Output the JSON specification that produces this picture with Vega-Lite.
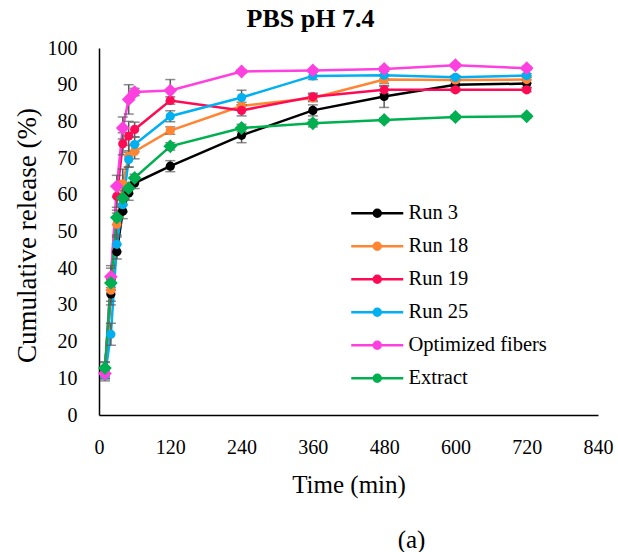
{
  "$schema": "https://vega.github.io/schema/vega-lite/v6.json",
  "autosize": "none",
  "width": 499,
  "height": 367,
  "padding": {"left": 99, "top": 48, "right": 20, "bottom": 137},
  "background": "white",
  "title": {"text": "PBS pH 7.4", "font": "Liberation Serif", "fontSize": 26, "fontWeight": "bold", "color": "black", "dx": -38, "dy": 30, "baseline": "alphabetic", "offset": 15, "anchor": "middle"},
  "config": {
    "view": {"stroke": null},
    "font": "Liberation Serif",
    "axis": {"grid": false, "ticks": false, "domainColor": "black", "domainWidth": 1.5, "labelFont": "Liberation Serif", "labelFontSize": 20, "labelColor": "black", "titleFont": "Liberation Serif", "titleColor": "black", "titleFontWeight": "normal"}
  },
  "data": {"values": [
    {"series": "Run 3", "time": 10, "value": 12.5, "sd": 2},
    {"series": "Run 3", "time": 20, "value": 33, "sd": 3},
    {"series": "Run 3", "time": 30, "value": 44.5, "sd": 2},
    {"series": "Run 3", "time": 40, "value": 55.5, "sd": 2},
    {"series": "Run 3", "time": 50, "value": 60.5, "sd": 2},
    {"series": "Run 3", "time": 60, "value": 63.2, "sd": 1.5},
    {"series": "Run 3", "time": 120, "value": 67.8, "sd": 1.5},
    {"series": "Run 3", "time": 240, "value": 76.2, "sd": 2},
    {"series": "Run 3", "time": 360, "value": 83, "sd": 1.5},
    {"series": "Run 3", "time": 480, "value": 86.8, "sd": 3},
    {"series": "Run 3", "time": 600, "value": 90, "sd": 1},
    {"series": "Run 3", "time": 720, "value": 90.3, "sd": 1},
    {"series": "Run 18", "time": 10, "value": 11.5, "sd": 1.5},
    {"series": "Run 18", "time": 20, "value": 34, "sd": 3},
    {"series": "Run 18", "time": 30, "value": 52, "sd": 3},
    {"series": "Run 18", "time": 40, "value": 63, "sd": 4},
    {"series": "Run 18", "time": 50, "value": 70.5, "sd": 3},
    {"series": "Run 18", "time": 60, "value": 71.8, "sd": 2},
    {"series": "Run 18", "time": 120, "value": 77.5, "sd": 1},
    {"series": "Run 18", "time": 240, "value": 84.2, "sd": 1},
    {"series": "Run 18", "time": 360, "value": 86.4, "sd": 1},
    {"series": "Run 18", "time": 480, "value": 91.4, "sd": 1},
    {"series": "Run 18", "time": 600, "value": 91.3, "sd": 1},
    {"series": "Run 18", "time": 720, "value": 91.4, "sd": 1},
    {"series": "Run 19", "time": 10, "value": 11.5, "sd": 1.5},
    {"series": "Run 19", "time": 20, "value": 37, "sd": 3},
    {"series": "Run 19", "time": 30, "value": 59.6, "sd": 3},
    {"series": "Run 19", "time": 40, "value": 73.9, "sd": 3},
    {"series": "Run 19", "time": 50, "value": 76, "sd": 4},
    {"series": "Run 19", "time": 60, "value": 77.8, "sd": 2},
    {"series": "Run 19", "time": 120, "value": 85.7, "sd": 1},
    {"series": "Run 19", "time": 240, "value": 83, "sd": 1.5},
    {"series": "Run 19", "time": 360, "value": 86.7, "sd": 1},
    {"series": "Run 19", "time": 480, "value": 88.6, "sd": 1},
    {"series": "Run 19", "time": 600, "value": 88.6, "sd": 0.5},
    {"series": "Run 19", "time": 720, "value": 88.6, "sd": 0.5},
    {"series": "Run 25", "time": 10, "value": 10.8, "sd": 1.5},
    {"series": "Run 25", "time": 20, "value": 22, "sd": 3},
    {"series": "Run 25", "time": 30, "value": 46.5, "sd": 2},
    {"series": "Run 25", "time": 40, "value": 57.3, "sd": 2},
    {"series": "Run 25", "time": 50, "value": 69.6, "sd": 2},
    {"series": "Run 25", "time": 60, "value": 73.7, "sd": 2},
    {"series": "Run 25", "time": 120, "value": 81.4, "sd": 1.5},
    {"series": "Run 25", "time": 240, "value": 86.5, "sd": 2},
    {"series": "Run 25", "time": 360, "value": 92.4, "sd": 1},
    {"series": "Run 25", "time": 480, "value": 92.6, "sd": 1},
    {"series": "Run 25", "time": 600, "value": 92, "sd": 0.5},
    {"series": "Run 25", "time": 720, "value": 92.5, "sd": 0.5},
    {"series": "Optimized fibers", "time": 10, "value": 11.3, "sd": 1.5},
    {"series": "Optimized fibers", "time": 20, "value": 37.7, "sd": 3},
    {"series": "Optimized fibers", "time": 30, "value": 62.3, "sd": 3},
    {"series": "Optimized fibers", "time": 40, "value": 78.2, "sd": 3},
    {"series": "Optimized fibers", "time": 50, "value": 86, "sd": 4},
    {"series": "Optimized fibers", "time": 60, "value": 88, "sd": 1},
    {"series": "Optimized fibers", "time": 120, "value": 88.4, "sd": 3},
    {"series": "Optimized fibers", "time": 240, "value": 93.6, "sd": 0.5},
    {"series": "Optimized fibers", "time": 360, "value": 93.9, "sd": 0.5},
    {"series": "Optimized fibers", "time": 480, "value": 94.3, "sd": 0.5},
    {"series": "Optimized fibers", "time": 600, "value": 95.3, "sd": 0.5},
    {"series": "Optimized fibers", "time": 720, "value": 94.5, "sd": 0.5},
    {"series": "Extract", "time": 10, "value": 12.8, "sd": 1.5},
    {"series": "Extract", "time": 20, "value": 36, "sd": 2},
    {"series": "Extract", "time": 30, "value": 53.8, "sd": 2},
    {"series": "Extract", "time": 40, "value": 59.1, "sd": 2},
    {"series": "Extract", "time": 50, "value": 61.8, "sd": 1.5},
    {"series": "Extract", "time": 60, "value": 64.6, "sd": 1},
    {"series": "Extract", "time": 120, "value": 73.2, "sd": 1},
    {"series": "Extract", "time": 240, "value": 78.2, "sd": 1},
    {"series": "Extract", "time": 360, "value": 79.5, "sd": 1},
    {"series": "Extract", "time": 480, "value": 80.4, "sd": 0.5},
    {"series": "Extract", "time": 600, "value": 81.2, "sd": 0.5},
    {"series": "Extract", "time": 720, "value": 81.4, "sd": 0.5}
  ]},
  "encoding": {
    "x": {"field": "time", "type": "quantitative", "scale": {"domain": [0, 840], "nice": false},
      "axis": {"values": [0, 120, 240, 360, 480, 600, 720, 840], "labelPadding": 38, "labelBaseline": "alphabetic", "labelFlush": false,
        "title": ["Time (min)", "\u200b\u00a0\u00a0\u00a0\u00a0\u00a0\u00a0\u00a0\u00a0\u00a0\u00a0\u00a0\u00a0\u00a0\u00a0\u00a0\u00a0\u00a0\u00a0\u00a0\u00a0(a)"], "titleFontSize": 25, "titleBaseline": "alphabetic", "titleY": 77, "titleLineHeight": 55}},
    "y": {"field": "value", "type": "quantitative", "scale": {"domain": [0, 100], "nice": false},
      "axis": {"values": [0, 10, 20, 30, 40, 50, 60, 70, 80, 90, 100], "labelPadding": 22, "title": "Cumulative release (%)", "titleFontSize": 27, "titleX": -72, "titleY": 187, "titleBaseline": "middle", "titleAngle": -90}},
    "color": {"field": "series", "type": "nominal",
      "scale": {"domain": ["Run 3", "Run 18", "Run 19", "Run 25", "Optimized fibers", "Extract"], "range": ["#000000", "#FF8533", "#FF0A55", "#00B0F0", "#FF40E0", "#00B050"]},
      "legend": {"title": null, "orient": "none", "legendX": 268, "legendY": 155, "direction": "vertical", "labelFont": "Liberation Serif", "labelFontSize": 20.5, "labelColor": "black", "symbolType": "M-5.2,0H5.2M0.7,0A0.7,0.7,0,1,1,-0.7,0A0.7,0.7,0,1,1,0.7,0Z", "symbolSize": 100, "symbolStrokeWidth": 2.5, "rowPadding": 12, "labelOffset": 21, "padding": 0}}
  },
  "layer": [
    {"mark": {"type": "line", "strokeWidth": 2.5}},
    {"mark": {"type": "errorbar", "color": "#5a5a5a", "ticks": {"size": 10, "thickness": 1.5, "color": "#5a5a5a"}, "rule": {"strokeWidth": 1.5, "color": "#5a5a5a"}},
      "encoding": {"yError": {"field": "sd"}, "color": {"value": "#5a5a5a"}}},
    {"transform": [{"filter": {"field": "series", "oneOf": ["Run 3", "Run 18", "Run 19", "Run 25"]}}],
      "mark": {"type": "point", "filled": true, "opacity": 1, "size": 85}},
    {"transform": [{"filter": {"field": "series", "oneOf": ["Optimized fibers", "Extract"]}}],
      "mark": {"type": "point", "filled": true, "opacity": 1, "shape": "diamond", "size": 190}}
  ]
}
